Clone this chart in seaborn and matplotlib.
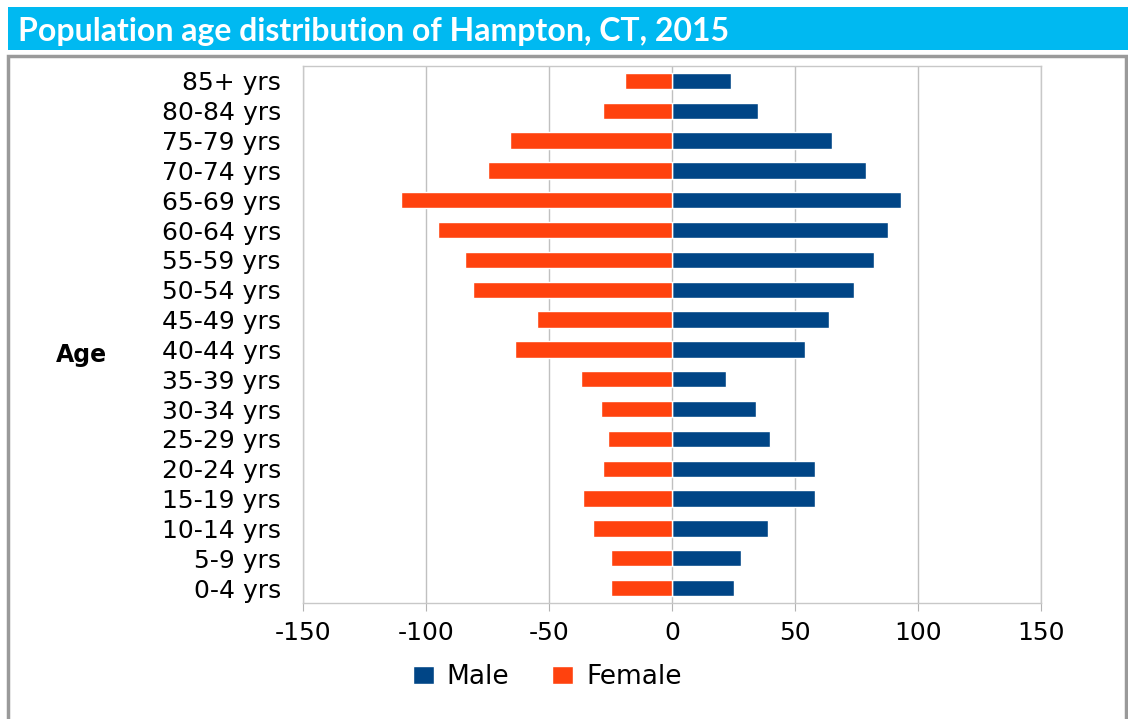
import numpy as np
import pandas as pd
import matplotlib
matplotlib.use("Agg")
import matplotlib.pyplot as plt
from matplotlib.patches import Rectangle
import seaborn as sns

# Données (du haut vers le bas)
ages = ["85+ yrs", "80-84 yrs", "75-79 yrs", "70-74 yrs", "65-69 yrs", "60-64 yrs",
        "55-59 yrs", "50-54 yrs", "45-49 yrs", "40-44 yrs", "35-39 yrs", "30-34 yrs",
        "25-29 yrs", "20-24 yrs", "15-19 yrs", "10-14 yrs", "5-9 yrs", "0-4 yrs"]
male = [24, 35, 65, 79, 93, 88, 82, 74, 64, 54, 22, 34, 40, 58, 58, 39, 28, 25]
female = [19, 28, 66, 75, 110, 95, 84, 81, 55, 64, 37, 29, 26, 28, 36, 32, 25, 25]
xticks = [-150, -100, -50, 0, 50, 100, 150]

df = pd.concat([
    pd.DataFrame({"age": ages, "value": male, "sexe": "Male"}),
    pd.DataFrame({"age": ages, "value": [-v for v in female], "sexe": "Female"}),
])

sns.set_style("white")
plt.rcParams['font.family'] = ['DejaVu Sans']
plt.rcParams['axes.unicode_minus'] = False
plt.rcParams['text.color'] = 'black'
plt.rcParams['axes.labelcolor'] = 'black'
plt.rcParams['xtick.labelcolor'] = 'black'
plt.rcParams['ytick.labelcolor'] = 'black'

fig = plt.figure(figsize=(11.28, 7.19), dpi=100)

# Bandeau de titre
fig.patches.append(Rectangle((8 / 1128, 1 - 50 / 719), 1 - 8 / 1128, 43 / 719,
                             transform=fig.transFigure, facecolor="#00B9F1",
                             edgecolor="none", zorder=0))
fig.text(18 / 1128, 1 - 31 / 719, "Population age distribution of Hampton, CT, 2015",
         color="white", fontsize=23, fontweight="bold", family=["Lato", "DejaVu Sans"],
         va="center", ha="left")
# Cadre gris
fig.patches.append(Rectangle((8 / 1128, -0.01), 1118 / 1128, 1 - 56 / 719 + 0.01,
                             transform=fig.transFigure, facecolor="none",
                             edgecolor="#9a9a9a", linewidth=2.5, zorder=0))

ax = fig.add_axes([303 / 1128, 1 - 603 / 719, (1041 - 303) / 1128, (603 - 66) / 719])
sns.barplot(data=df, y="age", x="value", hue="sexe", order=ages, dodge=False,
            palette={"Male": "#004586", "Female": "#FF420E"}, width=0.55,
            saturation=1, orient="h", ax=ax, hue_order=["Male", "Female"])

ax.set_xlim(-150, 150)
ax.set_xticks(xticks)
ax.set_xticklabels([str(t) for t in xticks], fontsize=18)
ax.tick_params(axis="y", labelsize=18, length=0, pad=16)
ax.tick_params(axis="x", length=6, color="#b3b3b3", pad=7, bottom=True)
ax.grid(axis="x", color="#c0c0c0", linewidth=1)
ax.set_axisbelow(True)
for side in ["top", "right", "left", "bottom"]:
    ax.spines[side].set_color("#c8c8c8")
    ax.spines[side].set_linewidth(1)
ax.set_xlabel("")
ax.set_ylabel("Age", fontsize=17, fontweight="bold", rotation=0, va="center", ha="center")
ax.yaxis.set_label_coords((81 - 303) / (1041 - 303), (603 - 355) / (603 - 66))

handles, labels = ax.get_legend_handles_labels()
ax.legend(handles, labels, loc="center", bbox_to_anchor=(547 / 1128, 1 - 677 / 719),
          bbox_transform=fig.transFigure, ncol=2, frameon=False, fontsize=19,
          handlelength=0.8, handleheight=0.7, handletextpad=0.5, columnspacing=1.6)

plt.savefig("out.png", dpi=100)
